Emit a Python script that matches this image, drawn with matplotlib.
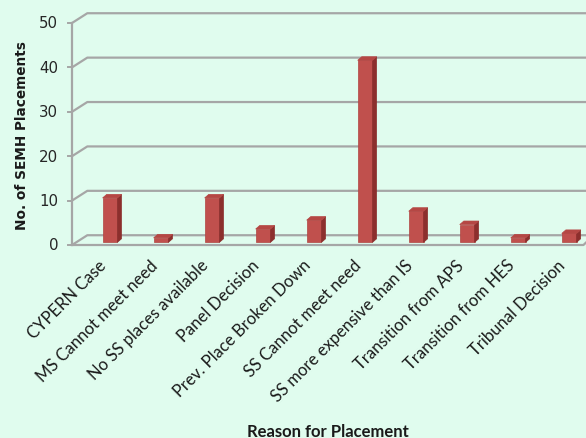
import matplotlib
matplotlib.use("Agg")
import matplotlib.pyplot as plt
from matplotlib.patches import Polygon

# data
reasons = ["CYPERN Case", "MS Cannot meet need", "No SS places available",
           "Panel Decision", "Prev. Place Broken Down", "SS Cannot meet need",
           "SS more expensive than IS", "Transition from APS",
           "Transition from HES", "Tribunal Decision"]
placements = [10, 1, 10, 3, 5, 41, 7, 4, 1, 2]
y_ticks = [0, 10, 20, 30, 40, 50]

BG = "#E0FCEE"
GRID = "#A6A6A6"
FRONT = "#C0504D"
SIDE = "#8C2F2D"
TOP = "#B54744"

fig = plt.figure(figsize=(5.86, 4.39), dpi=100)
fig.patch.set_facecolor(BG)
ax = fig.add_axes([72 / 586, (439 - 246) / 439, 514 / 586, 222 / 439])
ax.set_facecolor("none")
ax.set_xlim(-0.745, 9.33)
ax.set_ylim(0, 50)
for s in ax.spines.values():
    s.set_visible(False)
ax.set_xticks([])
ax.set_yticks([])

# depth of the "3D" box, in data units
dxd, dyd = 0.30, 2.2
xl, xr = ax.get_xlim()

# walls / gridlines
for v in y_ticks:
    ax.plot([xl, xl + dxd, xr + 0.2], [v, v + dyd, v + dyd], color=GRID, lw=1.6,
            clip_on=False, solid_capstyle="butt", zorder=1)
    ax.plot([xl - 0.08, xl], [v, v], color=GRID, lw=1.4, clip_on=False, zorder=1)
    ax.text(xl - 0.27, v, str(v), ha="right", va="center", fontsize=10.8,
            color="#262626", family="DejaVu Sans")
ax.plot([xl, xl], [0, 50], color=GRID, lw=1.6, clip_on=False, zorder=1)
ax.plot([xl, xr - 0.05, xr + 0.05], [0, 0, dyd * 0.5], color=GRID, lw=1.6,
        clip_on=False, zorder=1)

# bars
bw = 0.29
bdx, bdy = 0.08, 0.8
base = 0.6
for i, val in enumerate(placements):
    x0, x1 = i - bw / 2, i + bw / 2
    y0, y1 = base, base + val
    front = Polygon([(x0, y0), (x1, y0), (x1, y1), (x0, y1)], closed=True,
                    fc=FRONT, ec="#B04542", lw=0.5, zorder=3, clip_on=False)
    side = Polygon([(x1, y0), (x1 + bdx, y0 + bdy), (x1 + bdx, y1 + bdy), (x1, y1)],
                   closed=True, fc=SIDE, ec=SIDE, lw=0.5, zorder=3, clip_on=False)
    top = Polygon([(x0, y1), (x1, y1), (x1 + bdx, y1 + bdy), (x0 + bdx, y1 + bdy)],
                  closed=True, fc=TOP, ec=TOP, lw=0.5, zorder=3, clip_on=False)
    for p in (front, side, top):
        ax.add_patch(p)
    ax.text(i - 0.23, -2.6, reasons[i], rotation=45, ha="right", va="top",
            rotation_mode="anchor", fontsize=12, color="#1a1a1a", family="Lato")

fig.text(22 / 586, 1 - 136 / 439, "No. of SEMH Placements", rotation=90,
         ha="center", va="center", fontsize=9.8, fontweight="bold",
         color="#1a1a1a", family="DejaVu Sans")
fig.text(328 / 586, 1 - 432 / 439, "Reason for Placement", ha="center",
         va="center", fontsize=12, fontweight="bold", color="#1a1a1a",
         family="Lato")

fig.savefig("out.png", dpi=100, facecolor=BG)
